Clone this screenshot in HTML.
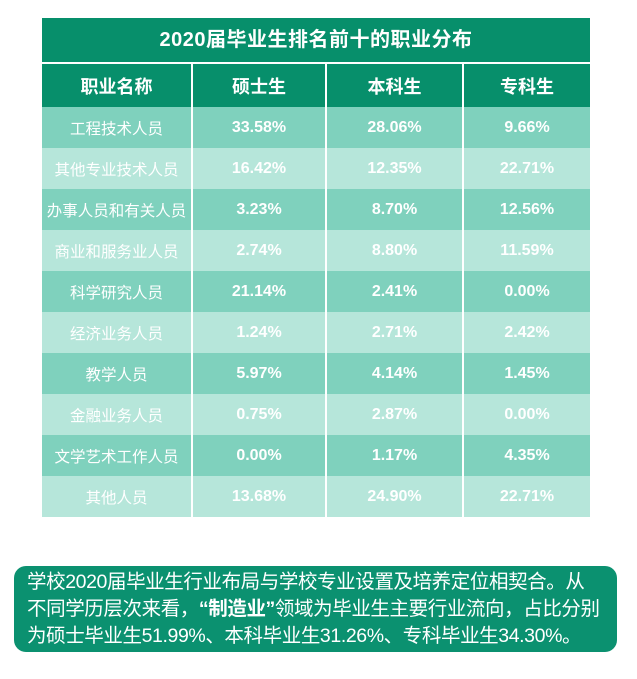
<!DOCTYPE html>
<html><head><meta charset="utf-8"><style>
body{margin:0;width:637px;height:679px;background:#fff;position:relative;font-family:"Liberation Sans","Noto Sans CJK SC",sans-serif;color:#fff;overflow:hidden}
.t{position:absolute;left:42px;top:18px;width:548px;}
.title{height:44px;background:#078f6b;text-align:center;font-size:20px;line-height:44px;font-weight:bold;border-bottom:2px solid #fff;letter-spacing:0.5px}
.row{display:flex;height:41px;}
.row div{display:flex;align-items:center;justify-content:center;border-right:2px solid #fff;box-sizing:border-box;font-size:16px;font-weight:bold}
.row div.c1{font-weight:normal;font-size:15.5px}
.row div:last-child{border-right:none}
.c1{width:151px}.c2{width:134px}.c3{width:137px}.c4{width:126px}
.hd{background:#078f6b;height:43px}
.hd div{font-size:18px}
.hd div.c1{font-weight:bold;font-size:18px}
.d{background:#7fd1bd}.l{background:#b6e6da}
.box{position:absolute;left:14px;top:566px;width:603px;height:86px;background:#0b9170;border-radius:12px;box-sizing:border-box;padding:3px 0 0 13px;font-size:19.5px;letter-spacing:-0.4px;line-height:27px;white-space:nowrap}
.box b{font-weight:bold}
</style></head><body>
<div class="t">
<div class="title">2020届毕业生排名前十的职业分布</div>
<div class="row hd"><div class="c1">职业名称</div><div class="c2">硕士生</div><div class="c3">本科生</div><div class="c4">专科生</div></div>
<div class="row d"><div class="c1">工程技术人员</div><div class="c2">33.58%</div><div class="c3">28.06%</div><div class="c4">9.66%</div></div>
<div class="row l"><div class="c1">其他专业技术人员</div><div class="c2">16.42%</div><div class="c3">12.35%</div><div class="c4">22.71%</div></div>
<div class="row d"><div class="c1">办事人员和有关人员</div><div class="c2">3.23%</div><div class="c3">8.70%</div><div class="c4">12.56%</div></div>
<div class="row l"><div class="c1">商业和服务业人员</div><div class="c2">2.74%</div><div class="c3">8.80%</div><div class="c4">11.59%</div></div>
<div class="row d"><div class="c1">科学研究人员</div><div class="c2">21.14%</div><div class="c3">2.41%</div><div class="c4">0.00%</div></div>
<div class="row l"><div class="c1">经济业务人员</div><div class="c2">1.24%</div><div class="c3">2.71%</div><div class="c4">2.42%</div></div>
<div class="row d"><div class="c1">教学人员</div><div class="c2">5.97%</div><div class="c3">4.14%</div><div class="c4">1.45%</div></div>
<div class="row l"><div class="c1">金融业务人员</div><div class="c2">0.75%</div><div class="c3">2.87%</div><div class="c4">0.00%</div></div>
<div class="row d"><div class="c1">文学艺术工作人员</div><div class="c2">0.00%</div><div class="c3">1.17%</div><div class="c4">4.35%</div></div>
<div class="row l"><div class="c1">其他人员</div><div class="c2">13.68%</div><div class="c3">24.90%</div><div class="c4">22.71%</div></div>
</div>
<div class="box">学校2020届毕业生行业布局与学校专业设置及培养定位相契合。从<br>不同学历层次来看，<b>“制造业”</b>领域为毕业生主要行业流向，占比分别<br>为硕士毕业生51.99%、本科毕业生31.26%、专科毕业生34.30%。</div>
</body></html>
